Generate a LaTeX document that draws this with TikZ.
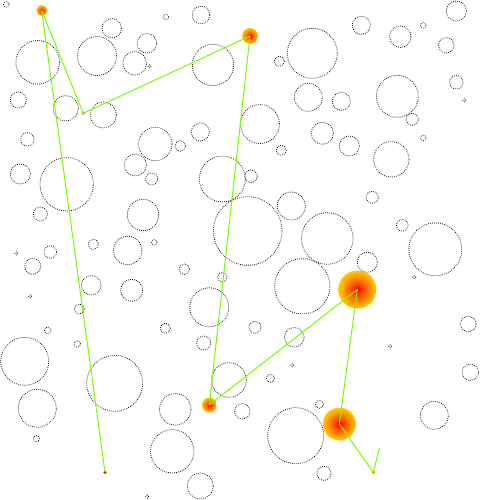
\documentclass[tikz,border=0pt]{standalone}
\pgfdeclareradialshading{nodeglow}{\pgfpoint{0bp}{0bp}}{color(0bp)=(red); color(12bp)=(orange!85!red); color(25bp)=(rgb,255:red,255;green,205;blue,0); color(50bp)=(rgb,255:red,255;green,205;blue,0)}
\definecolor{linkgreen}{RGB}{115,255,0}
\tikzset{
  ring/.style={draw=black, line width=0.75pt, dash pattern=on 0.75pt off 1.25pt},
  glow/.style={circle, inner sep=0pt, minimum size=#1, shading=nodeglow},
  tip/.style={circle, inner sep=0pt, minimum size=3.5pt, fill=#1},
  link/.style={draw=linkgreen, line width=1pt}
}
\begin{document}
\begin{tikzpicture}[x=1pt,y=-1pt]
\useasboundingbox (0,0) rectangle (500,500);
\foreach \cx/\cy/\r in {
6.3/4.3/2.7, 111.7/28.3/9.7, 166/17/2.7, 201/15/8.8, 37.7/62.3/21.8, 97/56/19.5,
147/43.3/9.8, 134.7/63.3/11.8, 149.7/66.3/1.5, 213/65/20.7, 18.3/100/8, 65.7/108.3/12.7,
103.3/115/13, 27.3/139.3/6.7, 155.3/144/16.7, 180.3/146/5.3, 200.3/132/9, 20.3/174/10,
66.7/184.3/26.7, 135.3/165/11, 151.7/179/6, 222.3/179/23, 143/215/15.7, 40.3/214/7,
93.3/244.3/5.2, 154.3/242.3/2.7, 50.3/252/6.2, 127.7/250.5/14.2,
312.3/53.3/25, 279.3/61.3/5, 361.3/25.3/9, 400.3/36.7/10.7, 423.3/25.3/2.7, 456.3/11/10,
446.3/45.3/7.7, 456.3/82.3/6.7, 464.3/100.3/1.5, 308.3/97.3/14, 341.3/101.3/9, 397.3/96.3/21,
412.3/119.3/6, 260/124/19.5, 322.3/133.3/11, 281.3/150.3/5, 349.3/146/10, 423.3/138/2.7,
391.3/159.3/17.7, 251/176.3/6.3, 372.3/197.3/6, 291.3/206/14, 247.7/231/34.3,
327.3/238.5/25.8, 435.3/249.3/26.5, 402.3/225.3/5.8,
16.3/253.3/1.5, 32.7/266.3/8, 184.3/269.3/5.3, 222.3/277.3/4.8, 91.3/285.3/9.8,
131.7/290.3/11, 30.3/296.3/1.5, 209.3/307.3/19.5, 79.3/309/5, 165.3/328.3/5, 47.7/330.3/3.3,
203.7/343/7, 77.3/344/3.3, 24.7/361.3/24, 114.7/383.3/28, 229/380/17.3, 37.3/408.3/19,
175.3/409.3/15.8, 242.3/411.3/7.7, 36.3/438.7/3, 172.3/451.3/21.7, 200.3/486/13, 147.3/496.7/1.5,
367.3/262.3/10, 414.3/277.3/1.5, 302.3/286.3/27.7, 255/327.3/6, 294.3/337.3/9.8,
468.3/324/7.8, 390.3/346.3/1.5, 292.3/365.3/1.5, 470.3/372.3/8.2, 270.3/378.3/4,
319.3/404.3/4, 434.3/415.3/14, 295.7/435.7/28, 324/473.3/7}
  \draw[ring] (\cx,\cy) circle[radius=\r pt];
% nodes and links (each node drawn before its outgoing links)
\node[tip=red] (D) at (105,472.3) {};
\node[tip=orange] (M) at (83.3,113.3) {};
\node[glow=11pt] (A) at (41.7,10.5) {};
\draw[link] (A.center) -- (D.center);
\draw[link] (A.center) -- (M.center);
\node[glow=16pt] (B) at (250,36) {};
\draw[link] (M.center) -- (B.center);
\node[glow=15pt] (C) at (209.3,405) {};
\draw[link] (B.center) -- (C.center);
\node[glow=38pt] (E) at (357.3,289.5) {};
\draw[link] (C.center) -- (E.center);
\node[glow=33pt] (F) at (339.3,424) {};
\draw[link] (E.center) -- (F.center);
\node[tip=orange] (G) at (373.3,472.3) {};
\draw[link] (F.center) -- (G.center);
\coordinate (H) at (379.3,448.3);
\draw[link] (G.center) -- (H);
\end{tikzpicture}
\end{document}
